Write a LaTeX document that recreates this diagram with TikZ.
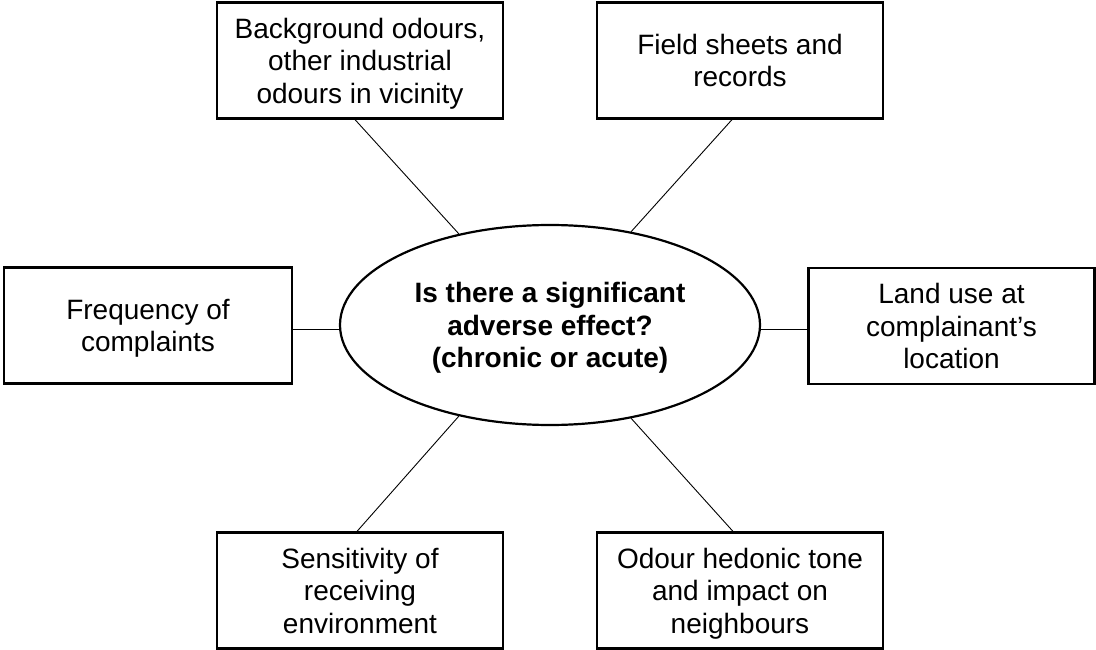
\documentclass[tikz,border=0pt]{standalone}
\usepackage{fontspec}
\setmainfont{Liberation Sans}
\usetikzlibrary{shapes.geometric}
\begin{document}
\begin{tikzpicture}[x=1pt,y=-1pt,
  factorbox/.style={draw,line width=2.2pt,rectangle,minimum width=286pt,minimum height=116pt,
    inner sep=0pt,align=center,text depth=0pt,font=\fontsize{28}{32.5}\selectfont},
  hub/.style={draw,line width=2.2pt,ellipse,minimum width=420pt,minimum height=200pt,
    inner sep=0pt,align=center,text depth=0pt,font=\fontsize{28}{32.5}\selectfont\bfseries},
  link/.style={line width=0.9pt}]
\useasboundingbox (0,0) rectangle (1096,650);
\node[hub] (c) at (550,325) {Is there a significant\\adverse effect?\\(chronic or acute)};
\node[factorbox] (tl) at (360,60.5) {Background odours,\\other industrial\\odours in vicinity};
\node[factorbox] (tr) at (740,60.5) {Field sheets and\\records};
\node[factorbox,minimum width=288pt] (l) at (148,325.5) {Frequency of\\complaints};
\node[factorbox] (r) at (951.5,326) {Land use at\\complainant’s\\location};
\node[factorbox] (bl) at (360,590.5) {Sensitivity of\\receiving\\environment};
\node[factorbox] (br) at (740,590.5) {Odour hedonic tone\\and impact on\\neighbours};
\draw[link] (c.135) -- ([xshift=-5pt]tl.south);
\draw[link] (c.49) -- ([xshift=-8pt]tr.south);
\draw[link] (c.225) -- ([xshift=-3pt]bl.north);
\draw[link] (c.-49) -- ([xshift=-7pt]br.north);
\draw[link] ([yshift=-4pt]c.west) -- ([yshift=-4pt]c.west -| l.east);
\draw[link] ([yshift=-4pt]c.east) -- ([yshift=-4pt]c.east -| r.west);
\end{tikzpicture}
\end{document}
